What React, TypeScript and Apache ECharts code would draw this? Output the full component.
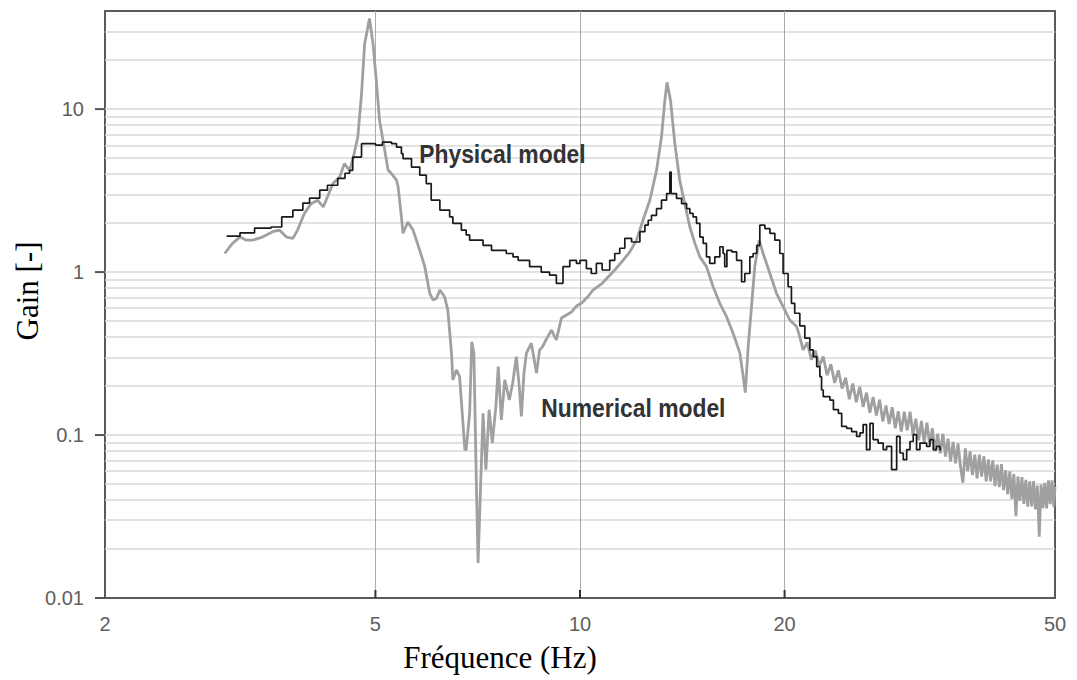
import React, { useEffect, useRef } from "react";
import * as echarts from "echarts";

// Axis ticks / labels
const xTicks = [2, 5, 10, 20, 50];
const xTickLabels = ["2", "5", "10", "20", "50"];
const yTicks = [0.01, 0.1, 1, 10];
const yTickLabels = ["0.01", "0.1", "1", "10"];
const xGrid = [5, 10, 20];
const yGrid = [
  0.02, 0.03, 0.04, 0.05, 0.06, 0.07, 0.08, 0.09, 0.1,
  0.2, 0.3, 0.4, 0.5, 0.6, 0.7, 0.8, 0.9, 1,
  2, 3, 4, 5, 6, 7, 8, 9, 10, 20, 30,
];

// Physical model (step line): [frequency Hz, gain]
const physical: [number, number][] = [
  [3.02, 1.66], [3.16, 1.74], [3.32, 1.86], [3.51, 1.89], [3.64, 2.18], [3.78, 2.4],
  [3.91, 2.65], [4.0, 2.84], [4.14, 3.18], [4.25, 3.41], [4.4, 3.76], [4.51, 4.04],
  [4.58, 4.21], [4.63, 5.08], [4.77, 6.14], [5.0, 6.02], [5.12, 6.28], [5.28, 6.14],
  [5.37, 5.85], [5.46, 5.33], [5.49, 4.97], [5.65, 4.41], [5.81, 3.93], [5.94, 3.49],
  [6.04, 2.76], [6.22, 2.4], [6.43, 2.18], [6.5, 1.99], [6.69, 1.81], [6.8, 1.69],
  [6.88, 1.57], [7.2, 1.46], [7.41, 1.36], [7.79, 1.3], [7.97, 1.24], [8.11, 1.18],
  [8.43, 1.08], [8.77, 1.0], [9.02, 0.958], [9.23, 0.853], [9.44, 1.08], [9.66, 1.18],
  [9.88, 1.13], [10.0, 1.18], [10.22, 1.05], [10.39, 0.98], [10.57, 1.13], [10.78, 1.03],
  [11.06, 1.18], [11.25, 1.3], [11.44, 1.4], [11.64, 1.61], [11.91, 1.53], [12.25, 1.77],
  [12.46, 1.94], [12.6, 2.08], [12.74, 2.23], [12.96, 2.45], [13.18, 2.76], [13.41, 3.03],
  [13.56, 4.11], [13.62, 3.03], [13.87, 2.83], [14.11, 2.63], [14.35, 2.45], [14.51, 2.29],
  [14.67, 2.18], [14.84, 1.99], [15.01, 1.64], [15.18, 1.5], [15.35, 1.24], [15.52, 1.13],
  [15.79, 1.24], [16.06, 1.43], [16.24, 1.3], [16.33, 1.08], [16.45, 1.36], [16.73, 1.33],
  [17.0, 1.18], [17.29, 0.872], [17.48, 0.98], [17.78, 1.24], [17.98, 1.3], [18.2, 1.46],
  [18.39, 1.94], [18.71, 1.85], [19.03, 1.73], [19.35, 1.57], [19.68, 1.3], [19.9, 0.98],
  [20.24, 0.813], [20.47, 0.643], [20.7, 0.559], [21.06, 0.467], [21.42, 0.393], [21.79, 0.333],
  [22.04, 0.303], [22.3, 0.263], [22.54, 0.228], [22.67, 0.189], [22.8, 0.172], [23.32, 0.164],
  [23.6, 0.143], [24.0, 0.136], [24.27, 0.113], [24.68, 0.11], [25.1, 0.105], [25.53, 0.098],
  [25.82, 0.103], [26.1, 0.116], [26.4, 0.0813], [26.71, 0.118], [27.0, 0.0936], [27.46, 0.0893],
  [27.94, 0.0813], [28.26, 0.0851], [28.74, 0.0613], [29.24, 0.098], [29.57, 0.0776], [29.9, 0.0706],
  [30.25, 0.0813], [30.59, 0.0913], [30.93, 0.1005], [31.28, 0.0813], [31.64, 0.0893], [32.36, 0.0851],
  [32.73, 0.0936], [33.1, 0.0813], [33.47, 0.0851], [33.86, 0.0813], [34.0, 0.0813],
];

// Numerical model: [frequency Hz, gain]
const numerical: [number, number][] = [
  [3.0, 1.3], [3.08, 1.5], [3.16, 1.64], [3.23, 1.57], [3.3, 1.57], [3.41, 1.64],
  [3.53, 1.77], [3.61, 1.81], [3.7, 1.64], [3.78, 1.61], [3.84, 1.81], [3.93, 2.29],
  [4.02, 2.63], [4.11, 2.76], [4.19, 2.51], [4.23, 2.76], [4.33, 3.49], [4.43, 3.83],
  [4.5, 4.63], [4.58, 4.21], [4.64, 5.08], [4.71, 6.74], [4.77, 12.4], [4.82, 25.1],
  [4.9, 36.0], [4.96, 25.1], [5.01, 15.7], [5.07, 8.53], [5.16, 5.59], [5.22, 4.21],
  [5.28, 4.02], [5.37, 3.66], [5.4, 3.33], [5.46, 2.18], [5.49, 1.73], [5.58, 2.03],
  [5.68, 1.81], [5.81, 1.36], [5.91, 1.08], [6.01, 0.741], [6.08, 0.674], [6.15, 0.69],
  [6.22, 0.776], [6.32, 0.706], [6.39, 0.585], [6.47, 0.318], [6.5, 0.218], [6.58, 0.251],
  [6.65, 0.228], [6.77, 0.0813], [6.8, 0.0813], [6.88, 0.136], [6.93, 0.374], [6.98, 0.318],
  [7.04, 0.0484], [7.08, 0.0164], [7.14, 0.0484], [7.2, 0.136], [7.27, 0.0613], [7.35, 0.143],
  [7.43, 0.0893], [7.52, 0.15], [7.58, 0.263], [7.66, 0.124], [7.75, 0.218], [7.87, 0.164],
  [7.96, 0.208], [8.06, 0.303], [8.14, 0.198], [8.2, 0.13], [8.27, 0.24], [8.34, 0.318],
  [8.48, 0.366], [8.63, 0.24], [8.72, 0.333], [8.81, 0.349], [8.91, 0.383], [9.08, 0.441],
  [9.23, 0.383], [9.39, 0.523], [9.55, 0.545], [9.72, 0.569], [9.88, 0.619], [10.06, 0.646],
  [10.29, 0.713], [10.45, 0.776], [10.78, 0.853], [11.25, 1.03], [11.57, 1.18], [11.84, 1.33],
  [12.11, 1.57], [12.38, 2.08], [12.67, 2.76], [12.96, 4.21], [13.18, 6.74], [13.33, 11.3],
  [13.43, 14.6], [13.59, 11.3], [13.79, 6.14], [14.02, 3.66], [14.26, 2.63], [14.51, 1.89],
  [14.76, 1.5], [15.01, 1.24], [15.35, 1.08], [15.7, 0.813], [16.06, 0.643], [16.43, 0.532],
  [16.8, 0.421], [17.19, 0.318], [17.37, 0.234], [17.51, 0.182], [17.68, 0.349], [17.88, 0.613],
  [18.08, 1.08], [18.35, 1.57], [18.6, 1.3], [19.03, 0.98], [19.46, 0.741], [19.9, 0.613],
  [20.36, 0.508], [20.83, 0.463],
  [21.0, 0.417], [21.3, 0.333], [21.6, 0.37], [21.9, 0.29], [22.2, 0.33], [22.5, 0.265],
  [22.8, 0.303], [23.1, 0.233], [23.4, 0.272], [23.7, 0.209], [24.0, 0.25], [24.3, 0.193],
  [24.6, 0.225], [24.9, 0.166], [25.2, 0.207], [25.5, 0.159], [25.8, 0.198], [26.1, 0.149],
  [26.4, 0.182], [26.7, 0.137], [27.0, 0.171], [27.3, 0.132], [27.6, 0.165], [27.9, 0.121],
  [28.2, 0.152], [28.5, 0.117], [28.8, 0.148], [29.1, 0.11], [29.4, 0.14], [29.7, 0.105],
  [30.0, 0.139], [30.3, 0.107], [30.6, 0.139], [30.9, 0.1], [31.2, 0.126], [31.5, 0.093],
  [31.8, 0.122], [32.1, 0.09], [32.4, 0.119], [32.7, 0.0875], [33.0, 0.11], [33.3, 0.0794],
  [33.6, 0.102], [33.9, 0.0773], [34.2, 0.102], [34.5, 0.0738], [34.8, 0.0951], [35.1, 0.0689],
  [35.4, 0.0906], [35.7, 0.0671], [36.0, 0.0885], [36.3, 0.0641], [36.6, 0.051], [36.9, 0.0828],
  [37.2, 0.06], [37.5, 0.0793], [37.8, 0.0568], [38.1, 0.0757], [38.4, 0.0542], [38.7, 0.0757],
  [39.0, 0.0556], [39.3, 0.0741], [39.6, 0.052], [39.9, 0.071], [40.2, 0.0519], [40.5, 0.0702],
  [40.8, 0.0486], [41.1, 0.0659], [41.4, 0.0479], [41.7, 0.0662], [42.0, 0.0459], [42.3, 0.0608],
  [42.6, 0.0432], [42.9, 0.0598], [43.2, 0.0406], [43.5, 0.0577], [43.8, 0.0318], [44.1, 0.0556],
  [44.4, 0.0395], [44.7, 0.0552], [45.0, 0.0378], [45.3, 0.053], [45.6, 0.0363], [45.9, 0.052],
  [46.2, 0.0365], [46.5, 0.0522], [46.8, 0.035], [47.1, 0.049], [47.4, 0.0238], [47.7, 0.0497],
  [48.0, 0.0356], [48.3, 0.0508], [48.6, 0.0355], [48.9, 0.0528], [49.2, 0.0376], [49.5, 0.0528],
  [49.8, 0.0361], [50.0, 0.0483],
];

// In-plot annotations anchored at data coordinates (left edge of text)
const annotations = [
  { text: "Physical model", f: 5.8, g: 5.3 },
  { text: "Numerical model", f: 8.77, g: 0.147 },
];

const xAxisName = "Fréquence (Hz)";
const yAxisName = "Gain [-]";

export default function App() {
  const ref = useRef<HTMLDivElement>(null);

  useEffect(() => {
    if (!ref.current) return;
    const chart = echarts.init(ref.current, null, { renderer: "svg" });
    const hidden = {
      axisLine: { show: false },
      axisTick: { show: false },
      axisLabel: { show: false },
      splitLine: { show: false },
    };
    chart.setOption({
      animation: false,
      backgroundColor: "#ffffff",
      grid: {
        left: 105,
        right: 22,
        top: 11,
        bottom: 82,
        show: true,
        borderColor: "#5a5a5a",
        borderWidth: 2,
        backgroundColor: "transparent",
      },
      xAxis: { type: "log", logBase: 10, min: 2, max: 50, ...hidden },
      yAxis: { type: "log", logBase: 10, min: 0.01, max: 40, ...hidden },
      series: [
        {
          name: "Numerical model",
          type: "line",
          data: numerical,
          symbol: "none",
          showSymbol: false,
          smooth: false,
          z: 3,
          lineStyle: { color: "#a0a0a0", width: 2.8 },
          markLine: {
            silent: true,
            z: 1,
            symbol: ["none", "none"],
            label: { show: false },
            emphasis: { disabled: true },
            data: [
              ...yGrid.map((v) => ({
                yAxis: v,
                lineStyle: { color: "#d8d8d8", width: 1.6, type: "solid" },
              })),
              ...xGrid.map((v) => ({
                xAxis: v,
                lineStyle: { color: "#ababab", width: 1, type: "solid" },
              })),
            ],
          },
        },
        {
          name: "Physical model",
          type: "line",
          step: "end",
          data: physical,
          symbol: "none",
          showSymbol: false,
          z: 4,
          lineStyle: { color: "#1a1a1a", width: 1.7 },
        },
      ],
    });

    const X = (v: number) => chart.convertToPixel({ xAxisIndex: 0 }, v) as number;
    const Y = (v: number) => chart.convertToPixel({ yAxisIndex: 0 }, v) as number;
    const x0 = X(xTicks[0]);
    const y0 = Y(yTicks[0]);
    const tickFont = '20px "Liberation Sans", Arial, Helvetica, sans-serif';
    const tickColor = "#606060";
    const els: any[] = [];

    yTicks.forEach((v, i) => {
      const y = Y(v);
      els.push({
        type: "line",
        silent: true,
        z: 20,
        shape: { x1: x0 - 10, y1: y, x2: x0, y2: y },
        style: { stroke: "#555555", lineWidth: 2 },
      });
      els.push({
        type: "text",
        silent: true,
        z: 20,
        x: x0 - 21,
        y: y,
        style: {
          text: yTickLabels[i],
          font: tickFont,
          fill: tickColor,
          align: "right",
          textAlign: "right",
          verticalAlign: "middle",
          textVerticalAlign: "middle",
        },
      });
    });

    xTicks.forEach((v, i) => {
      const x = X(v);
      if (xGrid.indexOf(v) >= 0) {
        els.push({
          type: "line",
          silent: true,
          z: 20,
          shape: { x1: x, y1: y0, x2: x, y2: y0 - 8 },
          style: { stroke: "#333333", lineWidth: 2 },
        });
      }
      els.push({
        type: "text",
        silent: true,
        z: 20,
        x: x,
        y: y0 + 26,
        style: {
          text: xTickLabels[i],
          font: tickFont,
          fill: tickColor,
          align: "center",
          textAlign: "center",
          verticalAlign: "middle",
          textVerticalAlign: "middle",
        },
      });
    });

    annotations.forEach((a) => {
      els.push({
        type: "text",
        silent: true,
        z: 30,
        x: X(a.f),
        y: Y(a.g),
        scaleX: 0.88,
        style: {
          text: a.text,
          font: 'bold 26px "Liberation Sans", Arial, Helvetica, sans-serif',
          fill: "#333333",
          align: "left",
          textAlign: "left",
          verticalAlign: "middle",
          textVerticalAlign: "middle",
        },
      });
    });

    const nameFont = '31px "Liberation Serif", "Times New Roman", Times, serif';
    els.push({
      type: "text",
      silent: true,
      z: 20,
      x: 500,
      y: 657,
      style: {
        text: xAxisName,
        font: nameFont,
        fill: "#000000",
        align: "center",
        textAlign: "center",
        verticalAlign: "middle",
        textVerticalAlign: "middle",
      },
    });
    els.push({
      type: "text",
      silent: true,
      z: 20,
      x: 27,
      y: 291,
      rotation: Math.PI / 2,
      style: {
        text: yAxisName,
        font: nameFont,
        fill: "#000000",
        align: "center",
        textAlign: "center",
        verticalAlign: "middle",
        textVerticalAlign: "middle",
      },
    });

    chart.setOption({ graphic: els });

    return () => {
      chart.dispose();
    };
  }, []);

  return (
    <div
      ref={ref}
      style={{ position: "absolute", left: 0, top: 0, width: 1077, height: 680 }}
    />
  );
}
